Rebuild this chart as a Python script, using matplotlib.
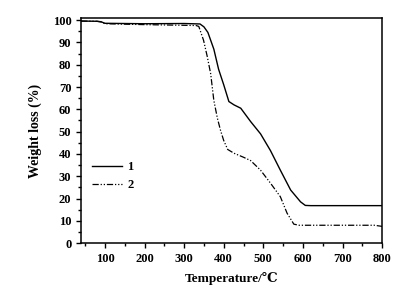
import matplotlib
matplotlib.use("Agg")
import matplotlib.pyplot as plt
from matplotlib.ticker import MultipleLocator

plt.rcParams['font.family'] = ['Liberation Serif', 'DejaVu Serif']
plt.rcParams['font.weight'] = 'bold'

temp1 = [40, 80, 90, 100, 200, 300, 340, 350, 360, 375, 387, 400, 413, 426, 443, 468, 493, 518, 543, 569, 594, 606, 620, 700, 750, 800]
wt1   = [99.6, 99.5, 99.3, 98.6, 98.4, 98.5, 98.3, 97.0, 94.5, 87.0, 78.0, 71.0, 63.5, 62.0, 60.5, 54.5, 49.0, 41.5, 32.7, 23.8, 18.5, 16.9, 16.8, 16.8, 16.8, 16.8]

temp2 = [40, 80, 90, 100, 200, 300, 330, 337, 349, 358, 367, 375, 384, 392, 400, 410, 426, 450, 468, 493, 518, 543, 560, 577, 590, 700, 780, 800]
wt2   = [99.6, 99.5, 99.2, 98.4, 98.0, 97.7, 97.6, 97.2, 91.0, 84.0, 76.0, 64.0, 56.0, 50.5, 46.0, 42.0, 40.3, 38.5, 37.0, 32.7, 26.9, 20.8, 13.4, 8.5, 8.0, 8.0, 8.0, 7.5]

labels = ['1', '2']

fig = plt.figure(figsize=(4.10, 2.99), dpi=100)
ax = fig.add_axes([0.198, 0.187, 0.734, 0.753])

ax.plot(temp1, wt1, color='black', lw=1.0, label=labels[0])
ax.plot(temp2, wt2, color='black', lw=0.9, dashes=(5, 1.5, 1, 1.5, 1, 1.5), label=labels[1])

ax.set_xlim(40, 800)
ax.set_ylim(0, 101)
ax.xaxis.set_major_locator(MultipleLocator(100))
ax.xaxis.set_minor_locator(MultipleLocator(50))
ax.yaxis.set_major_locator(MultipleLocator(10))
ax.yaxis.set_minor_locator(MultipleLocator(5))
ax.tick_params(which='both', direction='out', labelsize=9, width=1)
ax.tick_params(which='major', length=3.5)
ax.tick_params(which='minor', length=2)
for lab in ax.get_xticklabels() + ax.get_yticklabels():
    lab.set_fontweight('bold')
for s in ax.spines.values():
    s.set_linewidth(1.1)

ax.set_xlabel('Temperature/℃', fontsize=9.5, fontweight='bold', labelpad=5.5)
ax.set_ylabel('Weight loss (%)', fontsize=10, fontweight='bold', labelpad=8)

ax.legend(loc='upper left', bbox_to_anchor=(0.0, 0.415), frameon=False,
          handlelength=2.4, handletextpad=0.4, labelspacing=0.5,
          prop={'weight': 'bold', 'size': 9})

fig.savefig('out.png', dpi=100)
